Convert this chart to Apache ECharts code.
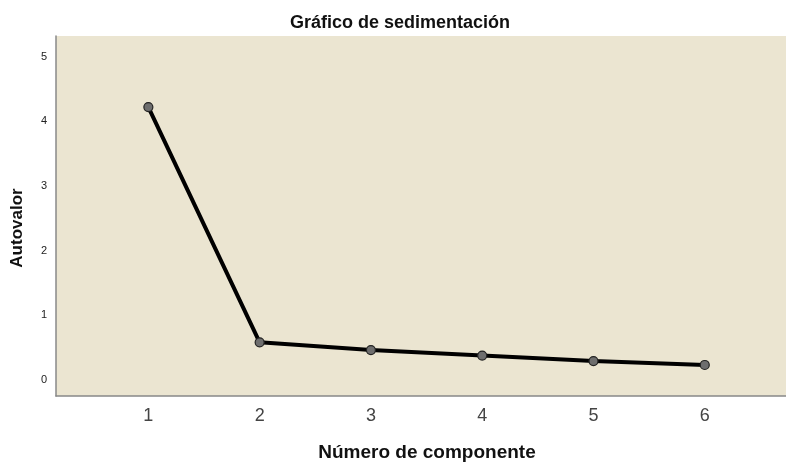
<!DOCTYPE html>
<html>
<head>
<meta charset="utf-8">
<script src="https://cdn.jsdelivr.net/npm/echarts@6/dist/echarts.min.js"></script>
<style>
  html, body { margin: 0; padding: 0; background: #fff; }
  #main { width: 786px; height: 466px; }
</style>
</head>
<body>
<div id="main"></div>
<script>
// datos del gráfico de sedimentación
var componentes = [1, 2, 3, 4, 5, 6]
var autovalores = [4.22, 0.58, 0.46, 0.375, 0.29, 0.23]
var ticksY = [0, 1, 2, 3, 4, 5]

var myChart = echarts.init(document.getElementById('main'))

var puntos = componentes.map(function (c, i) { return [c, autovalores[i]] })

var fuente = 'Liberation Sans, Arial'

var option = {
  animation: false,
  backgroundColor: '#ffffff',
  title: {
    text: 'Gráfico de sedimentación',
    left: 395,
    textAlign: 'center',
    top: 9,
    textStyle: { fontFamily: fuente, fontSize: 18, fontWeight: 'bold', color: '#111' }
  },
  // nombres de los ejes colocados a mano
  graphic: [
    {
      type: 'text',
      x: 427, y: 453,
      style: {
        text: 'Número de componente',
        font: 'bold 19px ' + fuente,
        fill: '#111',
        align: 'center',
        verticalAlign: 'middle'
      }
    },
    {
      type: 'text',
      x: 17, y: 228,
      rotation: Math.PI / 2,
      style: {
        text: 'Autovalor',
        font: 'bold 17px ' + fuente,
        fill: '#111',
        align: 'center',
        verticalAlign: 'middle'
      }
    }
  ],
  grid: {
    left: 56, right: 0, top: 36, bottom: 70,
    show: true,
    backgroundColor: '#EBE5D1',
    borderWidth: 0
  },
  xAxis: {
    type: 'value',
    min: 0.17,
    max: 6.73,
    splitLine: { show: false },
    axisTick: { show: false },
    axisLine: { onZero: false, lineStyle: { color: '#888', width: 1.5 } },
    axisLabel: {
      customValues: componentes,
      fontFamily: fuente,
      fontSize: 18,
      color: '#444',
      margin: 11
    }
  },
  yAxis: {
    type: 'value',
    min: -0.25,
    max: 5.32,
    splitLine: { show: false },
    axisTick: { show: false },
    axisLine: { show: true, onZero: false, lineStyle: { color: '#888', width: 1.5 } },
    axisLabel: {
      customValues: ticksY,
      fontFamily: fuente,
      fontSize: 11,
      color: '#222',
      margin: 9
    }
  },
  series: [
    {
      type: 'line',
      data: puntos,
      symbol: 'circle',
      symbolSize: 9,
      lineStyle: { color: '#000', width: 4 },
      itemStyle: { color: '#6e6e6e', borderColor: '#222', borderWidth: 1.2 },
      z: 3
    }
  ]
}

myChart.setOption(option)
</script>
</body>
</html>
